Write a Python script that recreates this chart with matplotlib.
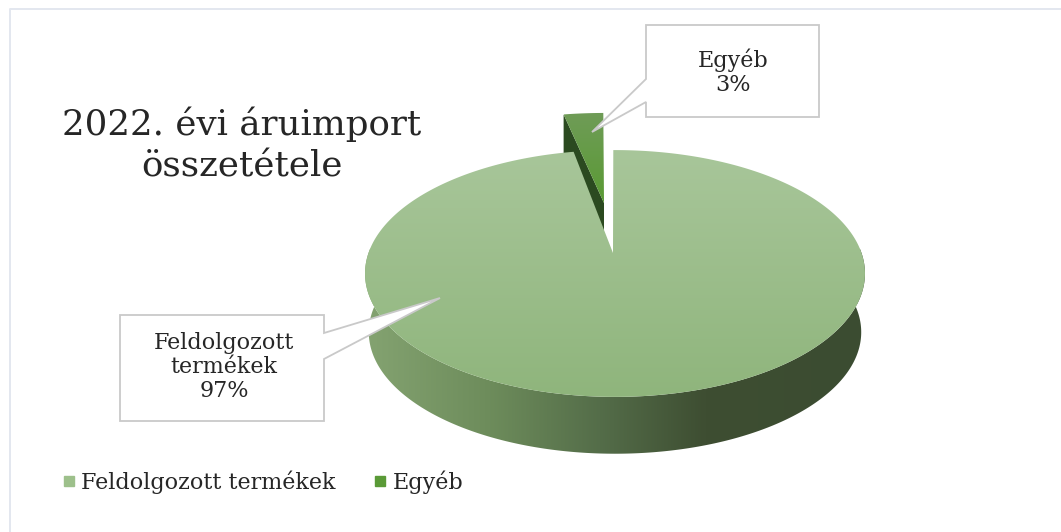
import numpy as np
import matplotlib
matplotlib.use("Agg")
import matplotlib.pyplot as plt
from matplotlib.colors import LinearSegmentedColormap
from matplotlib.lines import Line2D
from matplotlib.patches import Polygon

title = "2022. évi áruimport\nösszetétele"
categories = ["Feldolgozott termékek", "Egyéb"]
box_labels = ["Feldolgozott\ntermékek", "Egyéb"]
values = [97, 3]
legend_colors = ["#9dc08b", "#5a9a37"]

W, H = 1061, 532
plt.rcParams["font.family"] = ["DejaVu Serif"]

# pie projection, everything in image pixels
CX, APEX_X, APEX_Y = 615, 613, 253
A, B, K = 246.5, 120.0, 0.166
START = -0.008
BASE_Y, BASE_SCALE = 312, 0.985
DEPTH = 56


def project(theta, dx=0, dy=0, apex_y=APEX_Y, scale=1.0, yscale=1.0):
    # theta clockwise from 12 o'clock, slight perspective on the far side
    xx, zz = np.sin(theta), np.cos(theta)
    w = 1 + K * zz
    return np.column_stack([CX + dx + scale * A * xx / w,
                            apex_y + dy - yscale * scale * B * zz / w])


def gradient_poly(ax, pts, colors, horizontal=False, zorder=2):
    cmap = LinearSegmentedColormap.from_list("g", colors)
    x0, x1 = pts[:, 0].min(), pts[:, 0].max()
    y0, y1 = pts[:, 1].min(), pts[:, 1].max()
    grad = np.linspace(0, 1, 256)
    grad = grad[None, :] if horizontal else grad[:, None]
    im = ax.imshow(grad, cmap=cmap, extent=(x0, x1, y1, y0), aspect="auto",
                   zorder=zorder, interpolation="bilinear")
    patch = Polygon(pts, closed=True, transform=ax.transData, fc="none", ec="none")
    ax.add_patch(patch)
    im.set_clip_path(patch)


fig = plt.figure(figsize=(W / 100, H / 100), dpi=100)
ax = fig.add_axes([0, 0, 1, 1])
ax.set_xlim(0, W)
ax.set_ylim(H, 0)
ax.axis("off")

# chart frame, only top and left show in the crop
ax.plot([10, 10, W], [H, 9, 9], color="#e3e7ef", lw=1.4, zorder=0)

fracs = np.array(values) / sum(values)
small = 2 * np.pi * fracs[1]

# big slice runs clockwise from 12 o'clock, small one sits in the gap before 12
t_big = np.linspace(START, START + 2 * np.pi - small, 500)
top_big = project(t_big)
apex = np.array([[APEX_X, APEX_Y]])

# outer wall
t_wall = t_big[(t_big > np.pi / 2 - 0.05) & (t_big < 3 * np.pi / 2 + 0.05)]
wall = np.vstack([project(t_wall), project(t_wall, apex_y=BASE_Y, scale=BASE_SCALE)[::-1]])
wall_colors = [(0, "#84a371"), (0.25, "#6d8c5b"), (0.47, "#546d49"),
               (0.68, "#3e4e32"), (1, "#3b4c31")]
gradient_poly(ax, wall, wall_colors, horizontal=True, zorder=2)

# small exploded slice
t_small = np.linspace(START + 2 * np.pi - small, START + 2 * np.pi, 30)
OFF = (-10, -50)
tip = np.array([[APEX_X + OFF[0] + 1, APEX_Y + OFF[1]]])
top_small = np.vstack([tip, project(t_small, *OFF, yscale=0.875)])
side = np.vstack([top_small[:2], top_small[1] + [0, DEPTH], top_small[0] + [0, DEPTH]])
ax.add_patch(Polygon(side, closed=True, fc="#2b4a20", ec="none", zorder=3))
gradient_poly(ax, top_small, ["#6f9c57", "#5a9a34"], zorder=4)

# big slice top, over the small one's side wall
gradient_poly(ax, np.vstack([apex, top_big]), ["#a8c69a", "#8fb57c"], zorder=5)

# callouts
EDGE = "#c9c9c9"
callout_outlines = [
    [(120, 315), (324, 315), (324, 333), (440, 298), (324, 359), (324, 421), (120, 421)],
    [(646, 25), (819, 25), (819, 117), (646, 117), (646, 102), (592, 132), (646, 79)],
]
for outline in callout_outlines:
    ax.add_patch(Polygon(outline, closed=True, fc="white", ec=EDGE, lw=1.3, zorder=6))
ax.text(224, 367, f"{box_labels[0]}\n{values[0]}%", ha="center", va="center",
        fontsize=16, color="#262626", linespacing=1.12, zorder=7)
ax.text(733, 72, f"{box_labels[1]}\n{values[1]}%", ha="center", va="center",
        fontsize=16, color="#262626", linespacing=1.12, zorder=7)

ax.text(242, 145, title, ha="center", va="center", fontsize=25.7, color="#262626",
        linespacing=1.3, zorder=7)

handles = [Line2D([], [], ls="none", marker="s", ms=7.5, color=c) for c in legend_colors]
ax.legend(handles, categories, ncol=2, frameon=False, fontsize=16, labelcolor="#262626",
          loc="center left", bbox_to_anchor=(47 / W, 1 - 482 / H),
          handletextpad=0.05, columnspacing=1.5, borderpad=0, handlelength=1.0)

fig.savefig("out.png", dpi=100)
